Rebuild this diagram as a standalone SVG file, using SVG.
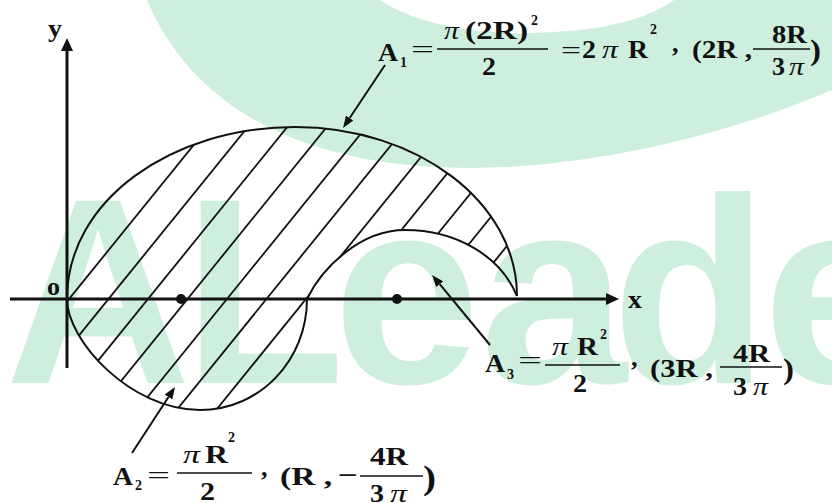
<svg xmlns="http://www.w3.org/2000/svg" width="832" height="503" viewBox="0 0 832 503">
<style>
.wm{fill:#cfefde}
.wmt{font-family:"Liberation Sans",Arial,sans-serif;font-weight:bold;font-size:265px;fill:#cfefde}
.ln{fill:none;stroke:#111;stroke-width:2}
.ht{stroke:#111;stroke-width:1.8}
.ax{stroke:#111;stroke-width:3}
.ar{stroke:#111;stroke-width:2}
.m{font-family:"Liberation Serif","Times New Roman",Times,serif;font-weight:bold;font-size:26px;fill:#111}
.q{font-family:"Liberation Serif","Times New Roman",Times,serif;font-weight:normal;font-size:26px;fill:#111}
.p{font-family:"Liberation Serif","Times New Roman",Times,serif;font-style:italic;font-weight:normal;font-size:26px;fill:#111}
.s{font-family:"Liberation Serif","Times New Roman",Times,serif;font-weight:bold;font-size:15px;fill:#111}
.fb{stroke:#111;stroke-width:1.5}
</style>
<defs>
<marker id="axh" markerUnits="userSpaceOnUse" markerWidth="13" markerHeight="12" refX="0" refY="6" orient="auto"><path d="M0,0 L13,6 L0,12 z" fill="#111"/></marker>
<marker id="arh" markerUnits="userSpaceOnUse" markerWidth="12" markerHeight="9" refX="0" refY="4.5" orient="auto"><path d="M0,0 L12,4.5 L0,9 z" fill="#111"/></marker>
<clipPath id="reg"><path d="M67,299 C67,200 172,127 295,127 C418,127 517,203 517,296 C500,255 455,230 405,230 C360,230 322,268 307,299 C307,360 260,410 200,410 C130,410 67,340 67,299 Z"/></clipPath>
</defs>
<g id="watermark">
<path class="wm" d="M147,0 C200,125 330,168 470,168 C600,168 740,130 832,90 L832,0 L674,0 C640,25 580,33 520,33 C460,33 410,20 380,0 Z"/>
<text class="wmt" x="5" y="383" textLength="186" lengthAdjust="spacingAndGlyphs">A</text>
<text class="wmt" x="183" y="383" textLength="162" lengthAdjust="spacingAndGlyphs">L</text>
<text class="wmt" x="333" y="383" textLength="147" lengthAdjust="spacingAndGlyphs">e</text>
<text class="wmt" x="480" y="383" textLength="147" lengthAdjust="spacingAndGlyphs">a</text>
<text class="wmt" x="612" y="383" textLength="156" lengthAdjust="spacingAndGlyphs">d</text>
<text class="wmt" x="763" y="383" textLength="147" lengthAdjust="spacingAndGlyphs">e</text>
</g>
<g id="hatching" clip-path="url(#reg)">
<line class="ht" x1="-51" y1="447.2" x2="229" y2="101.4"/>
<line class="ht" x1="-11.5" y1="447.2" x2="268.5" y2="101.4"/>
<line class="ht" x1="28" y1="447.2" x2="308" y2="101.4"/>
<line class="ht" x1="67.5" y1="447.2" x2="347.5" y2="101.4"/>
<line class="ht" x1="107" y1="447.2" x2="387" y2="101.4"/>
<line class="ht" x1="146.5" y1="447.2" x2="426.5" y2="101.4"/>
<line class="ht" x1="186" y1="447.2" x2="466" y2="101.4"/>
<line class="ht" x1="225.5" y1="447.2" x2="505.5" y2="101.4"/>
<line class="ht" x1="265" y1="447.2" x2="545" y2="101.4"/>
<line class="ht" x1="304.5" y1="447.2" x2="584.5" y2="101.4"/>
<line class="ht" x1="344" y1="447.2" x2="624" y2="101.4"/>
</g>
<g id="shape">
<path class="ln" d="M67,299 C67,200 172,127 295,127 C418,127 517,203 517,296"/>
<path class="ln" d="M307,299 C322,268 360,230 405,230 C455,230 500,255 517,296"/>
<path class="ln" d="M67,299 C67,340 130,410 200,410 C260,410 307,360 307,299"/>
</g>
<g id="axes">
<line class="ax" x1="10" y1="299" x2="606" y2="299" marker-end="url(#axh)"/>
<line class="ax" x1="67" y1="368" x2="67" y2="51" marker-end="url(#axh)"/>
<text class="m" x="48" y="37" textLength="14" lengthAdjust="spacingAndGlyphs">y</text>
<text class="m" x="628" y="308" textLength="14" lengthAdjust="spacingAndGlyphs">x</text>
<text class="m" x="47" y="295" textLength="13" lengthAdjust="spacingAndGlyphs">o</text>
</g>
<g id="centroids">
<circle cx="181" cy="299" r="5" fill="#111"/>
<circle cx="397" cy="299" r="5" fill="#111"/>
</g>
<g id="connectors">
<line class="ar" x1="385" y1="65" x2="349.7" y2="118" marker-end="url(#arh)"/>
<line class="ar" x1="132" y1="453" x2="168.5" y2="397" marker-end="url(#arh)"/>
<line class="ar" x1="490" y1="345" x2="439.7" y2="284.2" marker-end="url(#arh)"/>
</g>
<g id="label-A1">
<text class="m" x="378" y="61" textLength="20" lengthAdjust="spacingAndGlyphs">A</text>
<text class="s" x="400" y="67" textLength="7" lengthAdjust="spacingAndGlyphs">1</text>
<text class="q" x="411" y="58" textLength="23" lengthAdjust="spacingAndGlyphs">=</text>
<line class="fb" x1="437" y1="49" x2="548" y2="49"/>
<text class="p" x="444" y="39" textLength="15" lengthAdjust="spacingAndGlyphs">π</text>
<text class="m" x="465" y="39" textLength="63" lengthAdjust="spacingAndGlyphs">(2R)</text>
<text class="s" x="531" y="25" textLength="7" lengthAdjust="spacingAndGlyphs">2</text>
<text class="m" x="482" y="75" textLength="14" lengthAdjust="spacingAndGlyphs">2</text>
<text class="q" x="561" y="59" textLength="20" lengthAdjust="spacingAndGlyphs">=</text>
<text class="m" x="582" y="58" textLength="14" lengthAdjust="spacingAndGlyphs">2</text>
<text class="p" x="602" y="58" textLength="16" lengthAdjust="spacingAndGlyphs">π</text>
<text class="m" x="628" y="58" textLength="20" lengthAdjust="spacingAndGlyphs">R</text>
<text class="s" x="650" y="34" textLength="7" lengthAdjust="spacingAndGlyphs">2</text>
<text class="m" x="672" y="52">,</text>
<text class="m" x="692" y="58" textLength="60" lengthAdjust="spacingAndGlyphs">(2R ,</text>
<line class="fb" x1="753" y1="49" x2="810" y2="49"/>
<text class="m" x="772" y="43" textLength="35" lengthAdjust="spacingAndGlyphs">8R</text>
<text class="m" x="772" y="75" textLength="13" lengthAdjust="spacingAndGlyphs">3</text>
<text class="p" x="789" y="75" textLength="15" lengthAdjust="spacingAndGlyphs">π</text>
<text class="m" x="810" y="60" textLength="11" lengthAdjust="spacingAndGlyphs" style="font-size:30px">)</text>
</g>
<g id="label-A3">
<text class="m" x="485" y="372" textLength="20" lengthAdjust="spacingAndGlyphs">A</text>
<text class="s" x="507" y="379" textLength="7" lengthAdjust="spacingAndGlyphs">3</text>
<text class="q" x="518" y="369" textLength="24" lengthAdjust="spacingAndGlyphs">=</text>
<line class="fb" x1="545" y1="365" x2="620" y2="365"/>
<text class="p" x="552" y="355" textLength="16" lengthAdjust="spacingAndGlyphs">π</text>
<text class="m" x="577" y="355" textLength="21" lengthAdjust="spacingAndGlyphs">R</text>
<text class="s" x="600" y="339" textLength="7" lengthAdjust="spacingAndGlyphs">2</text>
<text class="m" x="573" y="392" textLength="14" lengthAdjust="spacingAndGlyphs">2</text>
<text class="m" x="631" y="366">,</text>
<text class="m" x="650" y="377" textLength="63" lengthAdjust="spacingAndGlyphs">(3R ,</text>
<line class="fb" x1="720" y1="367" x2="782" y2="367"/>
<text class="m" x="733" y="362" textLength="37" lengthAdjust="spacingAndGlyphs">4R</text>
<text class="m" x="733" y="395" textLength="14" lengthAdjust="spacingAndGlyphs">3</text>
<text class="p" x="753" y="395" textLength="15" lengthAdjust="spacingAndGlyphs">π</text>
<text class="m" x="783" y="379" textLength="11" lengthAdjust="spacingAndGlyphs" style="font-size:30px">)</text>
</g>
<g id="label-A2">
<text class="m" x="113" y="485" textLength="20" lengthAdjust="spacingAndGlyphs">A</text>
<text class="s" x="135" y="490" textLength="7" lengthAdjust="spacingAndGlyphs">2</text>
<text class="q" x="147" y="484" textLength="23" lengthAdjust="spacingAndGlyphs">=</text>
<line class="fb" x1="177" y1="473" x2="252" y2="473"/>
<text class="p" x="183" y="463" textLength="17" lengthAdjust="spacingAndGlyphs">π</text>
<text class="m" x="205" y="463" textLength="23" lengthAdjust="spacingAndGlyphs">R</text>
<text class="s" x="228" y="442" textLength="7" lengthAdjust="spacingAndGlyphs">2</text>
<text class="m" x="200" y="500" textLength="15" lengthAdjust="spacingAndGlyphs">2</text>
<text class="m" x="261" y="476">,</text>
<text class="m" x="280" y="485" textLength="52" lengthAdjust="spacingAndGlyphs">(R ,</text>
<text class="m" x="338" y="484" textLength="20" lengthAdjust="spacingAndGlyphs">−</text>
<line class="fb" x1="360" y1="476" x2="423" y2="476"/>
<text class="m" x="370" y="465" textLength="38" lengthAdjust="spacingAndGlyphs">4R</text>
<text class="m" x="370" y="502" textLength="14" lengthAdjust="spacingAndGlyphs">3</text>
<text class="p" x="390" y="502" textLength="17" lengthAdjust="spacingAndGlyphs">π</text>
<text class="m" x="423" y="489" textLength="13" lengthAdjust="spacingAndGlyphs" style="font-size:34px">)</text>
</g>
</svg>
